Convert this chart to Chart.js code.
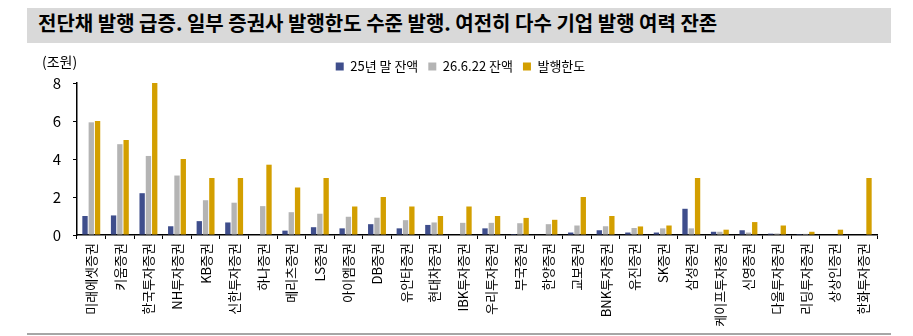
<!DOCTYPE html>
<html>
<head>
<meta charset="utf-8">
<script src="https://cdn.jsdelivr.net/npm/chart.js@4/dist/chart.umd.min.js"></script>
<style>
  body { margin: 0; background: #fff; }
  #wrap { position: relative; width: 913px; height: 336px; }
  #title {
    position: absolute; left: 27px; top: 8px; width: 853px; height: 35px;
    padding-left: 11px; background: #d9d9d9; line-height: 35px;
    font: bold 20px "Noto Sans CJK KR", sans-serif; color: #000; white-space: nowrap;
  }
  #bottomLine { position: absolute; left: 27px; top: 333px; width: 864px; height: 2px; background: #a6a6a6; }
  #myChart { position: absolute; left: 0; top: 0; }
</style>
</head>
<body>
<div id="wrap">
  <canvas id="myChart" width="913" height="336"></canvas>
  <div id="title">전단채 발행 급증. 일부 증권사 발행한도 수준 발행. 여전히 다수 기업 발행 여력 잔존</div>
  <div id="bottomLine"></div>
</div>
<script>
const firms = ["미래에셋증권", "키움증권", "한국투자증권", "NH투자증권", "KB증권", "신한투자증권", "하나증권",
  "메리츠증권", "LS증권", "아이엠증권", "DB증권", "유안타증권", "현대차증권", "IBK투자증권", "우리투자증권",
  "부국증권", "한양증권", "교보증권", "BNK투자증권", "유진증권", "SK증권", "삼성증권", "케이프투자증권",
  "신영증권", "다올투자증권", "리딩투자증권", "상상인증권", "한화투자증권"];

// 25년 말 잔액 (조원)
const bal25 = [1.0, 1.03, 2.2, 0.46, 0.73, 0.66, 0, 0.23, 0.41, 0.35, 0.57, 0.35, 0.53, 0, 0.35,
  0.05, 0, 0.13, 0.25, 0.13, 0.13, 1.38, 0.17, 0.25, 0.07, 0.05, 0, 0];
// 26.6.22 잔액
const bal26 = [5.93, 4.78, 4.16, 3.13, 1.83, 1.7, 1.52, 1.2, 1.12, 0.96, 0.91, 0.78, 0.66, 0.64, 0.64,
  0.62, 0.57, 0.5, 0.46, 0.37, 0.35, 0.35, 0.17, 0.13, 0.08, 0.06, 0, 0];
// 발행한도
const limits = [6, 5, 8, 4, 3, 3, 3.7, 2.5, 3, 1.5, 2, 1.5, 1, 1.5, 1,
  0.9, 0.8, 2, 1, 0.45, 0.5, 3, 0.28, 0.68, 0.5, 0.17, 0.28, 3];

const yTicks = [0, 2, 4, 6, 8];

const FONT = '"Noto Sans CJK KR", sans-serif';

// "(조원)" unit label above the y axis
const unitLabel = {
  id: "unitLabel",
  afterDraw(chart) {
    const c = chart.ctx;
    c.save();
    c.font = "14px " + FONT;
    c.fillStyle = "#000";
    c.textAlign = "left";
    c.textBaseline = "middle";
    c.fillText("(조원)", 42, 62);
    c.restore();
  }
};

let myChart = new Chart(document.getElementById("myChart"), {
  type: "bar",
  data: {
    labels: firms,
    datasets: [
      { label: "25년 말 잔액", data: bal25, backgroundColor: "#3f4e8c" },
      { label: "26.6.22 잔액", data: bal26, backgroundColor: "#b4b4b4" },
      { label: "발행한도", data: limits, backgroundColor: "#d39f00" },
    ],
  },
  options: {
    responsive: false,
    animation: false,
    layout: { padding: { left: 44, right: 36, top: 50, bottom: 0 } },
    datasets: { bar: { categoryPercentage: 0.66, barPercentage: 0.85 } },
    plugins: {
      tooltip: { enabled: false },
      legend: {
        position: "top",
        labels: {
          boxWidth: 8, boxHeight: 8, padding: 10, color: "#000",
          font: { family: FONT, size: 13 },
        },
      },
    },
    scales: {
      x: {
        grid: { offset: true, drawOnChartArea: false, tickLength: 4, color: "#000" },
        border: { color: "#000", width: 1.5 },
        ticks: {
          autoSkip: false, minRotation: 90, maxRotation: 90, padding: 4, color: "#000",
          font: { family: FONT, size: 13 },
        },
        afterFit(scale) { scale.height = 101; },
      },
      y: {
        min: 0, max: 8,
        grid: { drawOnChartArea: false, tickLength: 4, color: "#000" },
        border: { color: "#000", width: 1.5 },
        afterBuildTicks(scale) { scale.ticks = yTicks.map(v => ({ value: v })); },
        ticks: { padding: 12, color: "#000", font: { family: FONT, size: 15 } },
        afterFit(scale) { scale.width = 33; },
      },
    },
  },
  plugins: [unitLabel],
});
</script>
</body>
</html>
